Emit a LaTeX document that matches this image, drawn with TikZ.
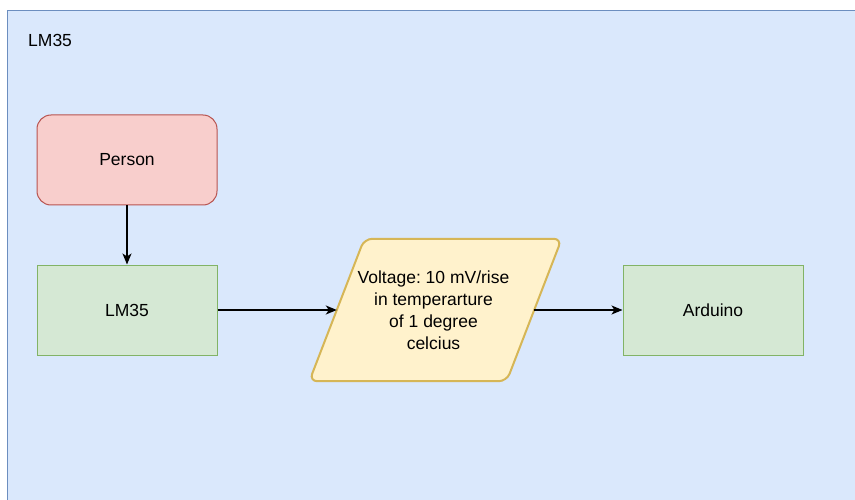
\documentclass[tikz,border=0pt]{standalone}
\usepackage{fontspec}
\setmainfont{Liberation Sans}
\usetikzlibrary{arrows.meta,positioning,calc,backgrounds}
\definecolor{cdFrame}{HTML}{DAE8FC}
\definecolor{cdFrameLine}{HTML}{6C8EBF}
\definecolor{cdPerson}{HTML}{F8CECC}
\definecolor{cdPersonLine}{HTML}{B85450}
\definecolor{cdBlock}{HTML}{D5E8D4}
\definecolor{cdBlockLine}{HTML}{82B366}
\definecolor{cdSignal}{HTML}{FFF2CC}
\definecolor{cdSignalLine}{HTML}{D6B656}

\begin{document}
\begin{tikzpicture}[
  x=1pt, y=-1pt,
  font=\fontsize{17.5}{22}\selectfont\frenchspacing,
  box/.style={draw=cdBlockLine, fill=cdBlock, line width=1pt, minimum width=180pt, minimum height=90pt, inner sep=0pt},
  actor/.style={box, draw=cdPersonLine, fill=cdPerson, rounded corners=14pt},
  signal/.style={minimum width=252pt, minimum height=142pt, inner sep=0pt, align=center},
  signalline/.style={draw=cdSignalLine, fill=cdSignal, line width=2pt, rounded corners=8pt},
  arr/.style={-{Stealth[length=11pt, width=9pt, inset=3pt]}, line width=1.4pt, draw=black}
]
\useasboundingbox (0,0) rectangle (855,500);
\clip (0,0) rectangle (855,500);

% Blocks
\node[actor] (person) at (127,160) {Person};
\node[box] (lm35) at (127,310) {LM35};
\node[signal] (voltage) at (433.5,310) {Voltage: 10 mV/rise\\in temperarture\\of 1 degree\\celcius};
\node[box] (arduino) at (713,310) {Arduino};
\coordinate (vin) at ($(voltage.west)+(29.5,0)$);
\coordinate (vout) at ($(voltage.east)+(-25.5,0)$);

% Container and parallelogram behind the text
\begin{scope}[on background layer]
\node[draw=cdFrameLine, fill=cdFrame, line width=1pt, minimum width=870pt, minimum height=510pt, anchor=north west] (frame) at (7,10) {};
\draw[signalline] ($(voltage.south west)+(2,0)$) -- ($(voltage.north west)+(57,0)$) -- ($(voltage.north east)+(2,0)$)
  -- ($(voltage.south east)+(-53,0)$) -- cycle;
\end{scope}
\node[anchor=west, inner sep=0pt] (title) at (28,40) {LM35};

% Arrows
\draw[arr] (person.south) -- (lm35.north);
\draw[arr] (lm35.east) -- (vin);
\draw[arr] (vout) -- (arduino.west);

\end{tikzpicture}
\end{document}
